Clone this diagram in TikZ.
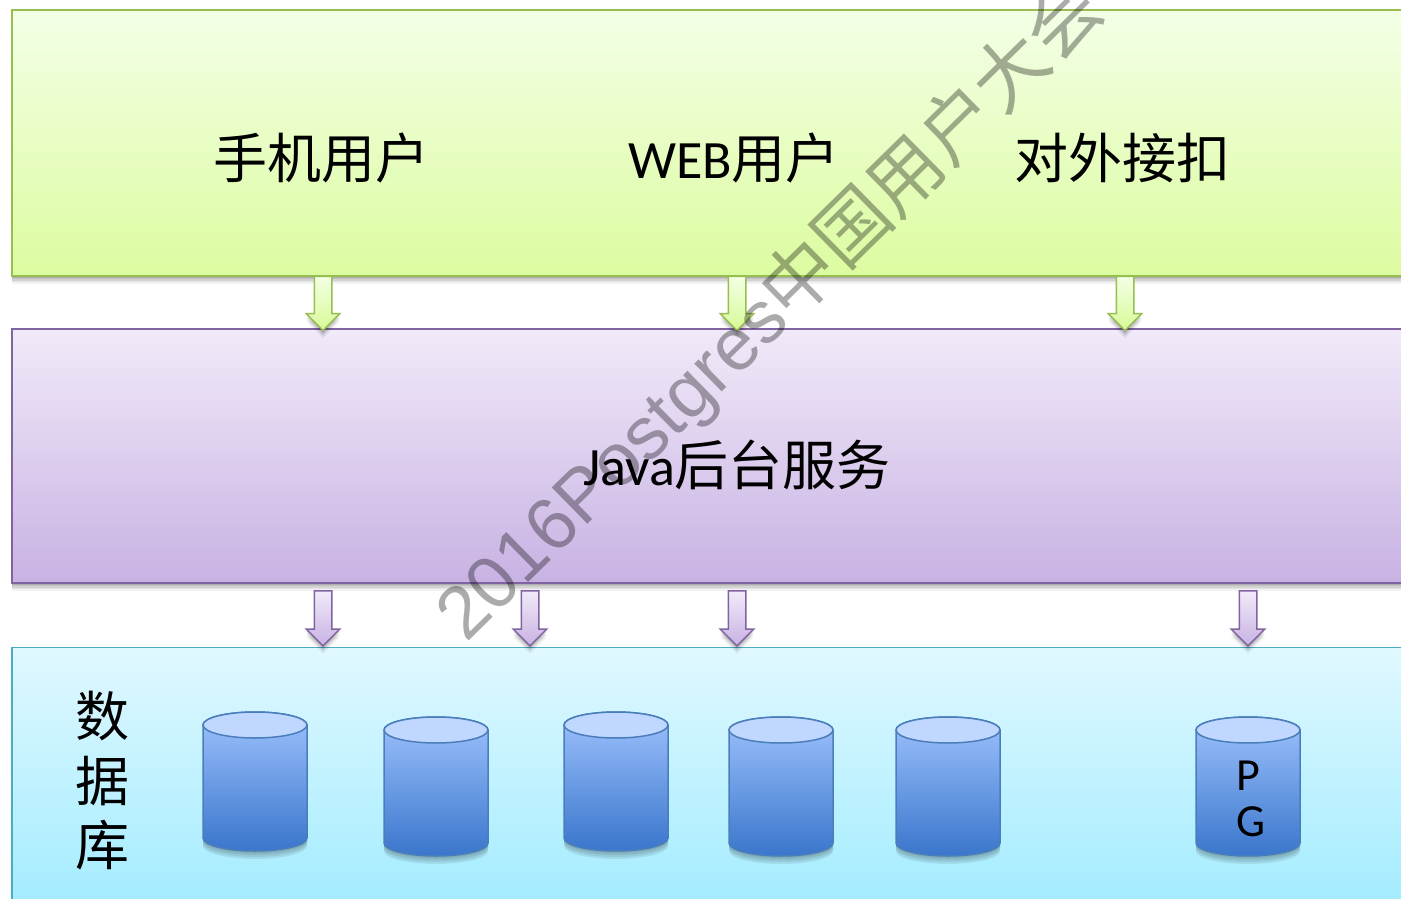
\documentclass[tikz,border=0pt]{standalone}
\usepackage{fontspec}
\setmainfont{Carlito}
\newfontfamily\cjk{Noto Sans CJK SC}
\newfontfamily\wmlatin{Liberation Sans}
\usetikzlibrary{shapes.arrows}
\definecolor{grnLine}{HTML}{98BE4F}
\definecolor{purLine}{HTML}{8064A2}
\definecolor{bluLine}{HTML}{4BACC6}
\definecolor{cylLine}{HTML}{4A7EBB}
\tikzset{
  softshadow/.style={
    preaction={fill=black,fill opacity=.09,transform canvas={yshift=-1.5pt}},
    preaction={fill=black,fill opacity=.08,transform canvas={yshift=-3pt}},
    preaction={fill=black,fill opacity=.07,transform canvas={yshift=-4.5pt}},
    preaction={fill=black,fill opacity=.06,transform canvas={yshift=-6pt}},
    preaction={fill=black,fill opacity=.05,transform canvas={yshift=-8pt}}},
  band/.style={rectangle,draw,line width=1.5pt,minimum width=1440pt,inner sep=0pt,outer sep=0pt,anchor=north west,softshadow},
  greenband/.style={band,draw=grnLine,top color={rgb,255:red,243;green,255;blue,230},bottom color={rgb,255:red,220;green,252;blue,160}},
  purpleband/.style={band,draw=purLine,top color={rgb,255:red,241;green,234;blue,249},bottom color={rgb,255:red,200;green,178;blue,227}},
  blueband/.style={band,draw=bluLine,top color={rgb,255:red,224;green,248;blue,255},bottom color={rgb,255:red,158;green,235;blue,255}},
  blockarrow/.style={single arrow,shape border rotate=270,draw,line width=1.5pt,inner xsep=8pt,inner ysep=0pt,outer sep=0pt,
    minimum width=32pt,minimum height=54pt,single arrow head extend=8pt,single arrow head indent=0pt,softshadow},
  greenarrow/.style={blockarrow,draw=grnLine,top color={rgb,255:red,243;green,255;blue,230},bottom color={rgb,255:red,215;green,250;blue,150}},
  purplearrow/.style={blockarrow,draw=purLine,top color={rgb,255:red,241;green,234;blue,249},bottom color={rgb,255:red,200;green,178;blue,227}},
  bigtext/.style={inner sep=0pt,text=black,font=\fontsize{54}{60}\selectfont},
  pgtext/.style={inner sep=0pt,text=black,font=\fontsize{46}{50}\selectfont},
  cylbody/.style={draw=cylLine,line width=1.5pt,top color={rgb,255:red,158;green,194;blue,253},bottom color={rgb,255:red,58;green,118;blue,204}},
  cyltop/.style={draw=cylLine,line width=1.5pt,fill={rgb,255:red,192;green,216;blue,255}},
  cylshadow/.style={fill=black,fill opacity=.08},
  watermark/.style={inner sep=0pt,rotate=44.5,anchor=base west,text=black,text opacity=.33,font=\fontsize{74}{80}\selectfont}
}
% #1 name, #2 left, #3 top, #4 width, #5 height
\newcommand{\dbcyl}[5]{%
  \foreach \s in {2,4,6,8}{
    \path[cylshadow,transform canvas={yshift=-\s pt}] (#2,#3+13) -- (#2,#3+#5-13)
      arc[start angle=180,end angle=360,x radius=#4/2*1pt,y radius=13pt] -- (#2+#4,#3+13) -- cycle;}
  \path[cylbody] (#2,#3+13) -- (#2,#3+#5-13)
    arc[start angle=180,end angle=360,x radius=#4/2*1pt,y radius=13pt]
    -- (#2+#4,#3+13)
    arc[start angle=0,end angle=180,x radius=#4/2*1pt,y radius=13pt] -- cycle;
  \path[cyltop] (#2+#4/2,#3+13) ellipse[x radius=#4/2*1pt,y radius=13pt];
  \coordinate (#1) at (#2+#4/2,#3+#5/2);
}
\begin{document}
\begin{tikzpicture}[x=1pt,y=-1pt]
\useasboundingbox (0,0) rectangle (1401,899);
\clip (0,0) rectangle (1401,899);
\fill[white] (0,0) rectangle (1401,899);

\node[greenband,minimum height=266pt] (clients) at (12,10) {};
\node[purpleband,minimum height=254pt] (service) at (12,329) {};
\node[blueband,minimum height=280pt] (storage) at (12,647.5) {};

\node[bigtext] (mobile) at (321,158) {\cjk 手机用户};
\node[bigtext] (web) at (734,158) {WEB{\cjk 用户}};
\node[bigtext] (api) at (1122,158) {\cjk 对外接扣};
\node[bigtext] (java) at (737,465) {Java{\cjk 后台服务}};
\node[bigtext] (shu) at (102.5,716) {\cjk 数};
\node[bigtext] (ju) at (102.5,781) {\cjk 据};
\node[bigtext] (ku) at (102.5,845) {\cjk 库};

\node[greenarrow] (ga) at (323,299) {};
\node[greenarrow] (gb) at (737,299) {};
\node[greenarrow] (gc) at (1125,299) {};
\node[purplearrow,minimum height=55pt] (pa) at (323,614) {};
\node[purplearrow,minimum height=55pt] (pb) at (530,614) {};
\node[purplearrow,minimum height=55pt] (pc) at (737,614) {};
\node[purplearrow,minimum height=55pt] (pd) at (1248,614) {};

\dbcyl{dba}{203}{712}{104}{139}
\dbcyl{dbb}{384}{717}{104}{139}
\dbcyl{dbc}{564}{712}{104}{139}
\dbcyl{dbd}{729}{717}{104}{139}
\dbcyl{dbe}{896}{717}{104}{139}
\dbcyl{dbf}{1196}{717}{104}{139}
\node[pgtext] (pgp) at (1248,776) {P};
\node[pgtext] (pgg) at (1251,822) {G};

\node[watermark] (mark) at (466,644) {\wmlatin 2016Postgres{\cjk 中国用户大会}};
\end{tikzpicture}
\end{document}
